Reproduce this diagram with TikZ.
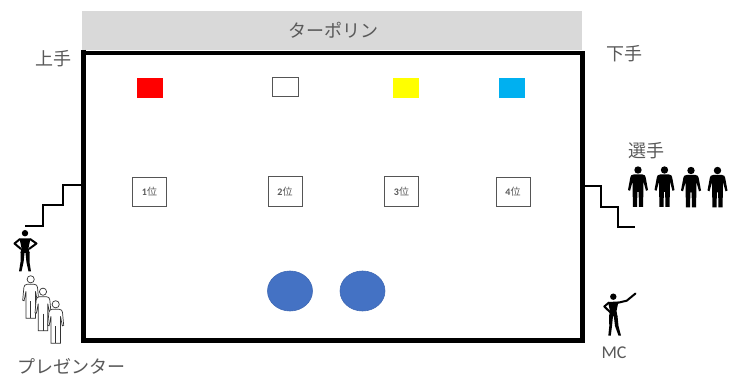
\documentclass[tikz,border=0pt]{standalone}
\usepackage{fontspec}
\setmainfont{Noto Sans CJK JP}
\newfontfamily\latinfont{Carlito}
\newfontfamily\cjkfont{Noto Sans CJK JP}
\usetikzlibrary{shapes.geometric}
\definecolor{txt}{HTML}{595959}
\definecolor{tarp}{HTML}{D9D9D9}
\definecolor{edgegray}{HTML}{555555}
\definecolor{disc}{HTML}{4472C4}
\definecolor{discedge}{HTML}{3E68B4}
\definecolor{flagblue}{HTML}{00B0F0}
\definecolor{flagyellowc}{HTML}{FFFF00}
\definecolor{flagredc}{HTML}{FF0000}
\newcommand{\personshape}{
  (-4.5,4.5) -- (4.5,4.5) .. controls (6.5,4.8) and (7.2,5.5) .. (7.6,7) -- (10,20) -- (8,20.8) -- (5.4,11.5) -- (5.4,21) -- (5,37) -- (1,37) -- (0.6,22) -- (-0.6,22) -- (-1,37) -- (-5,37) -- (-5.4,21) -- (-5.4,11.5) -- (-8,20.8) -- (-10,20) -- (-7.6,7) .. controls (-7.2,5.5) and (-6.5,4.8) .. (-4.5,4.5) -- cycle}
\newcommand{\hollowshape}{
  (-3.5,5) -- (3.5,5) .. controls (5.5,5.2) and (6.5,6) .. (6.8,8) -- (8,21) -- (6.6,21.5) -- (4.8,12) -- (4.8,39) -- (-4.8,39) -- (-4.8,12) -- (-6.6,21.5) -- (-8,21) -- (-6.8,8) .. controls (-6.5,6) and (-5.5,5.2) .. (-3.5,5) -- cycle}
\newcommand{\solidperson}[1]{
  \begin{scope}[shift={(#1)}]
    \fill[black] (0,0) circle (3.7);
    \fill[black] \personshape;
  \end{scope}}
\newcommand{\hollowperson}[1]{
  \begin{scope}[shift={(#1)}]
    \filldraw[fill=white,draw=black!80,line width=0.7pt] (0,0) circle (3.6);
    \filldraw[fill=white,draw=black!80,line width=0.7pt] \hollowshape;
    \draw[black!80,line width=0.6pt] (0,22) -- (0,39);
  \end{scope}}
\tikzset{
  label text/.style={text=txt,font=\fontsize{18}{18}\selectfont,inner sep=0pt},
  rank box/.style={draw=edgegray,line width=0.9pt,fill=white,minimum width=34pt,minimum height=29.5pt,inner sep=0pt,text=txt,font=\fontsize{10}{10}\selectfont},
  flag/.style={minimum width=26pt,minimum height=20pt,inner sep=0pt},
  stair/.style={line width=2.6pt,line join=miter,line cap=butt},
  disc node/.style={ellipse,draw=discedge,line width=0.6pt,fill=disc,minimum width=45pt,minimum height=40pt,inner sep=0pt}
}
\begin{document}
\begin{tikzpicture}[x=1pt,y=-1pt]
\useasboundingbox (0,0) rectangle (729,374);
\fill[white] (0,0) rectangle (729,374);
% tarpaulin
\node[fill=tarp,minimum width=500pt,minimum height=39pt,inner sep=0pt] (tarpnode) at (332,30.5) {};
\node[label text] (tarplabel) at (333,30) {ターポリン};
% stage
\draw[black,line width=3.6pt] (84,52.8) -- (582.5,52.8);
\draw[black,line width=5.5pt,line join=miter] (83.5,50) -- (83.5,340.5) -- (582.5,340.5) -- (582.5,51);
% stairs
\draw[stair] (25,226) -- (43,226) -- (43,205) -- (63,205) -- (63,185) -- (82,185);
\draw[stair] (585,186) -- (601,186) -- (601,207) -- (618,207) -- (618,227) -- (635,227);
% labels
\node[label text] (kamite) at (53,59) {上手};
\node[label text] (shimote) at (624,54) {下手};
\node[label text] (senshu) at (646,151) {選手};
\node[label text] (presenter) at (71,366) {プレゼンター};
\node[text=txt,inner sep=0pt,font=\latinfont\fontsize{18}{18}\selectfont] (mc) at (614,353) {MC};
% flags
\node[flag,fill=flagredc] (flagred) at (150,88) {};
\node[flag,fill=white,draw=edgegray,line width=0.9pt,minimum width=26pt,minimum height=19pt] (flagwhite) at (285,86.5) {};
\node[flag,fill=flagyellowc] (flagyellow) at (406,88) {};
\node[flag,fill=flagblue] (flagcyan) at (512,88) {};
% rank boxes
\node[rank box] (r1) at (149.5,192) {\latinfont\bfseries 1\cjkfont\mdseries 位};
\node[rank box] (r2) at (285,191.5) {\latinfont\bfseries 2\cjkfont\mdseries 位};
\node[rank box] (r3) at (401.5,191.5) {\latinfont\bfseries 3\cjkfont\mdseries 位};
\node[rank box] (r4) at (513,192) {\latinfont\bfseries 4\cjkfont\mdseries 位};
% discs
\node[disc node] (d1) at (290,291) {};
\node[disc node] (d2) at (362.5,291) {};
% players
\solidperson{638,170}
\solidperson{664.5,170}
\solidperson{691,170.5}
\solidperson{717.5,170.5}
% presenters
\hollowperson{30.7,279.3}
\hollowperson{43,291.7}
\hollowperson{55.7,304.3}
% figure with hands on hips
\fill[black] (25,233.2) circle (3.2);
\fill[black] (19.5,238.5) -- (30.5,238.5) -- (28.5,248) -- (29.5,253) -- (20.5,253) -- (21.5,248) -- cycle;
\draw[black,line width=2pt,line join=round] (20,239) -- (14.5,243.5) -- (21,249);
\draw[black,line width=2pt,line join=round] (30,239) -- (36.5,243.5) -- (29,249);
\fill[black] (20.5,252) -- (24.6,252) -- (23.6,262) -- (21.5,271.5) -- (19,271.5) -- (20.5,262) -- cycle;
\fill[black] (25.4,252) -- (29.5,252) -- (29.5,262) -- (31,271.5) -- (28.5,271.5) -- (26.4,262) -- cycle;
% MC figure
\fill[black] (613.3,296.7) circle (3.2);
\fill[black] (608,302) -- (618.5,301.5) -- (616.5,311) -- (617.5,316.5) -- (609,316.5) -- (610,311) -- cycle;
\draw[black,line width=2pt,line join=round] (609,302.5) -- (604.3,306.5) -- (611,313);
\draw[black,line width=2pt,line join=round,line cap=round] (617,303) -- (626.7,300.7) -- (635.5,293.5);
\fill[black] (609,316) -- (613,316) -- (612,326) -- (610.8,335.7) -- (608.3,335.7) -- (609.3,326) -- cycle;
\fill[black] (613.8,316) -- (617.5,316) -- (618.5,326) -- (621,335.7) -- (618.5,335.7) -- (615,326) -- cycle;
\end{tikzpicture}
\end{document}
